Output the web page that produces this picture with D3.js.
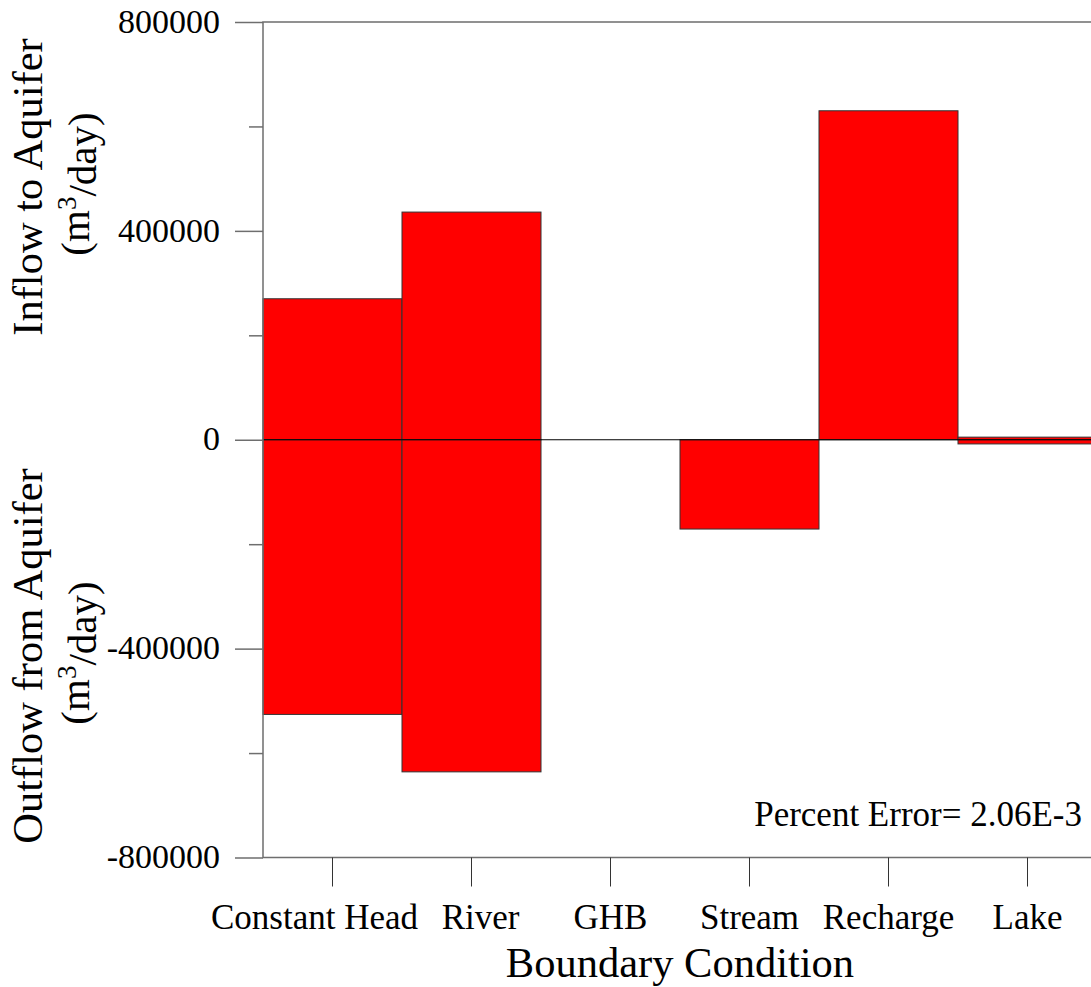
<!DOCTYPE html>
<html>
<head>
<meta charset="utf-8">
<script src="https://cdn.jsdelivr.net/npm/d3@7"></script>
<style>
  html, body { margin: 0; padding: 0; background: #fff; }
  svg { display: block; font-family: "Liberation Serif", "Times New Roman", serif; }
</style>
</head>
<body>
<svg id="chart" width="1091" height="987"></svg>
<script>
// Water budget by boundary condition (m^3/day)
const categories = ['Constant Head', 'River', 'GHB', 'Stream', 'Recharge', 'Lake'];
const inflow = [270000, 436000, 0, 0, 630000, 5000];
const outflow = [-526000, -636000, 0, -171000, 0, -8000];
const majorTicks = [800000, 400000, 0, -400000, -800000];
const minorTicks = [600000, 200000, -200000, -600000];
const percentError = 'Percent Error= 2.06E-3';

// layout
const plotLeft = 263, plotTop = 22, plotBottom = 857.5, plotRight = 1097;
// the first two x labels are pushed apart so they don't touch
const labelShift = { 'Constant Head': -18, 'River': 9 };

const svg = d3.select('#chart');

const x = d3.scaleBand().domain(categories).range([plotLeft, plotRight]).padding(0);
const y = d3.scaleLinear().domain([-800000, 800000]).range([plotBottom, plotTop]);

const rows = categories.map((c, i) => ({ cat: c, inflow: inflow[i], outflow: outflow[i] }));

// bars: one rect above zero, one below
const barG = svg.append('g');
barG.selectAll('rect.in')
  .data(rows.filter(d => d.inflow !== 0))
  .enter().append('rect')
  .attr('class', 'in')
  .attr('x', d => x(d.cat))
  .attr('width', x.bandwidth())
  .attr('y', d => y(d.inflow))
  .attr('height', d => y(0) - y(d.inflow))
  .attr('fill', '#ff0000')
  .attr('stroke', '#333')
  .attr('stroke-width', 1);

barG.selectAll('rect.out')
  .data(rows.filter(d => d.outflow !== 0))
  .enter().append('rect')
  .attr('class', 'out')
  .attr('x', d => x(d.cat))
  .attr('width', x.bandwidth())
  .attr('y', y(0))
  .attr('height', d => y(d.outflow) - y(0))
  .attr('fill', '#ff0000')
  .attr('stroke', '#333')
  .attr('stroke-width', 1);

// zero line
svg.append('line')
  .attr('x1', plotLeft).attr('x2', plotRight)
  .attr('y1', y(0)).attr('y2', y(0))
  .attr('stroke', '#000').attr('stroke-width', 1);

// frame (top, left, bottom)
const axisColor = '#6e6e6e';
svg.append('path')
  .attr('d', `M${plotRight},${plotTop}H${plotLeft}V${plotBottom}H${plotRight}`)
  .attr('fill', 'none').attr('stroke', axisColor).attr('stroke-width', 1.5);

// y axis, major ticks with labels (plain hyphen for negatives)
const yAxis = svg.append('g')
  .attr('transform', `translate(${plotLeft},0)`)
  .call(d3.axisLeft(y).tickValues(majorTicks).tickSize(28).tickPadding(15).tickFormat(d => String(d)))
  .attr('font-family', null).attr('font-size', 34);
yAxis.select('.domain').remove();
yAxis.selectAll('.tick line').attr('stroke', axisColor).attr('stroke-width', 1.5);
yAxis.selectAll('.tick text').attr('fill', '#000').attr('dy', '0.3em');

// y axis, minor ticks
const yMinor = svg.append('g')
  .attr('transform', `translate(${plotLeft},0)`)
  .call(d3.axisLeft(y).tickValues(minorTicks).tickSize(14).tickFormat(''));
yMinor.select('.domain').remove();
yMinor.selectAll('.tick line').attr('stroke', axisColor).attr('stroke-width', 1.5);

// x axis
const xAxis = svg.append('g')
  .attr('transform', `translate(0,${plotBottom})`)
  .call(d3.axisBottom(x).tickSize(29).tickPadding(0))
  .attr('font-family', null).attr('font-size', 35);
xAxis.select('.domain').remove();
xAxis.selectAll('.tick line').attr('stroke', '#333').attr('stroke-width', 1);
xAxis.selectAll('.tick text')
  .attr('fill', '#000')
  .attr('y', 71.5).attr('dy', 0)
  .attr('x', d => labelShift[d] || 0);

// axis titles
svg.append('text')
  .attr('x', (plotLeft + plotRight) / 2).attr('y', 977)
  .attr('text-anchor', 'middle').attr('font-size', 42.5)
  .text('Boundary Condition');

function yTitle(label, cy) {
  svg.append('text')
    .attr('transform', `translate(42,${cy}) rotate(-90)`)
    .attr('text-anchor', 'middle').attr('font-size', 42.5)
    .text(label);
  const unit = svg.append('text')
    .attr('transform', `translate(89,${cy - 3}) rotate(-90)`)
    .attr('text-anchor', 'middle').attr('font-size', 41);
  unit.append('tspan').text('(m');
  unit.append('tspan').attr('font-size', 27).attr('dy', '-0.5em').text('3');
  unit.append('tspan').attr('dy', '0.5em').text('/day)');
}
yTitle('Inflow to Aquifer', 187);
yTitle('Outflow from Aquifer', 656);

// percent error note
svg.append('text')
  .attr('x', 1082).attr('y', 826)
  .attr('text-anchor', 'end').attr('font-size', 35)
  .text(percentError);
</script>
</body>
</html>
